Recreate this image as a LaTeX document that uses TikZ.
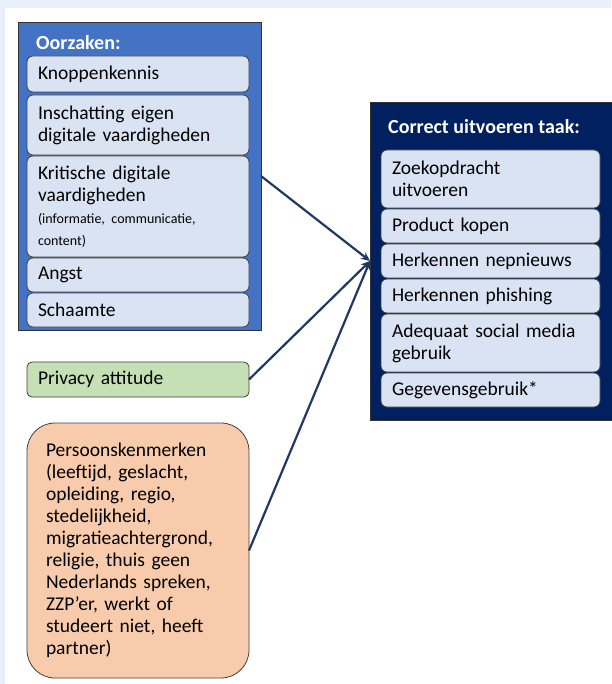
\documentclass[tikz,border=0pt]{standalone}
\usepackage{fontspec}
\setmainfont{Carlito}
\usetikzlibrary{arrows.meta,positioning}
\usepackage{color}

\definecolor{oorzaakblauw}{HTML}{4472C4}
\definecolor{taakblauw}{HTML}{002060}
\definecolor{vakblauw}{HTML}{DAE3F3}
\definecolor{privacygroen}{HTML}{C5E0B4}
\definecolor{persoonoranje}{HTML}{F8CBAD}
\definecolor{randblauw}{HTML}{E9F0FB}
\definecolor{pijlblauw}{HTML}{1F3864}

\newcommand{\kleintekst}{\fontsize{14}{22}\selectfont}

\begin{document}
\begin{tikzpicture}[x=1pt,y=-1pt,
  groep/.style={draw=black!80, line width=0.8pt, anchor=north west, outer sep=0pt},
  kop/.style={anchor=west, text=white, font=\fontsize{20}{22}\selectfont\bfseries, inner sep=0pt},
  vak/.style={draw=black!75, line width=0.8pt, fill=vakblauw, rounded corners=6pt,
    text width=200pt, inner xsep=11pt, inner ysep=0pt, outer sep=0pt, align=left,
    font=\fontsize{19.5}{22}\selectfont}]

% achtergrond
\fill[randblauw] (0,0) rectangle (611,684);
\fill[white] (5,8) rectangle (611,684);
\useasboundingbox (0,0) rectangle (611,684);

% oorzaken
\node [groep, fill=oorzaakblauw, minimum width=243pt, minimum height=308pt] (oorzaken) at (18,22) {};
\node [kop] (oorzakenkop) at (36,43) {Oorzaken:};

\begin{scope}[every node/.style={vak}]
\node [anchor=north west, minimum height=36pt] (knoppen) at (27,56) {Knoppenkennis};
\node [minimum height=60pt] (inschatting) [below=3pt of knoppen] {Inschatting eigen\\digitale vaardigheden};
\node [minimum height=101pt] (kritisch) [below=1pt of inschatting] {Kritische digitale\\vaardigheden\\\kleintekst (informatie, communicatie,\\content)};
\node [minimum height=34pt] (angst) [below=1pt of kritisch] {Angst};
\node [minimum height=34pt] (schaamte) [below=1pt of angst] {Schaamte};
\end{scope}

% correct uitvoeren taak
\node [groep, fill=taakblauw, minimum width=243pt, minimum height=318pt] (taak) at (370,102) {};
\node [kop] (taakkop) at (388,127) {Correct uitvoeren taak:};

\begin{scope}[every node/.style={vak, text width=197pt}]
\node [anchor=north west, minimum height=58pt] (zoek) at (381,150) {Zoekopdracht\\uitvoeren};
\node [minimum height=34pt] (kopen) [below=1pt of zoek] {Product kopen};
\node [minimum height=34pt] (nepnieuws) [below=1pt of kopen] {Herkennen nepnieuws};
\node [minimum height=34pt] (phishing) [below=1pt of nepnieuws] {Herkennen phishing};
\node [minimum height=58pt] (social) [below=1pt of phishing] {Adequaat social media\\gebruik};
\node [minimum height=34pt] (gegevens) [below=1pt of social] {Gegevensgebruik*};
\end{scope}

% overige factoren
\node [vak, fill=privacygroen, rounded corners=5pt, anchor=north west, minimum height=35pt] (privacy) at (27,362) {Privacy attitude};
\node [vak, fill=persoonoranje, rounded corners=28pt, anchor=north west, minimum height=255pt,
  inner xsep=19pt, text width=184pt] (persoon) at (27,423)
  {Persoonskenmerken\\(leeftijd, geslacht,\\opleiding, regio,\\stedelijkheid,\\migratieachtergrond,\\religie, thuis geen\\Nederlands spreken,\\ZZP'er, werkt of\\studeert niet, heeft\\partner)};

\begin{scope}[>={Stealth[length=9pt,width=8pt]}]
\draw [->, line width=2.2pt, pijlblauw] (oorzaken.east) -- (taak.west);
\draw [->, line width=2.2pt, pijlblauw] (privacy.east) -- (taak.west);
\draw [->, line width=2.2pt, pijlblauw] (persoon.east) -- (taak.west);
\end{scope}
\end{tikzpicture}
\end{document}
